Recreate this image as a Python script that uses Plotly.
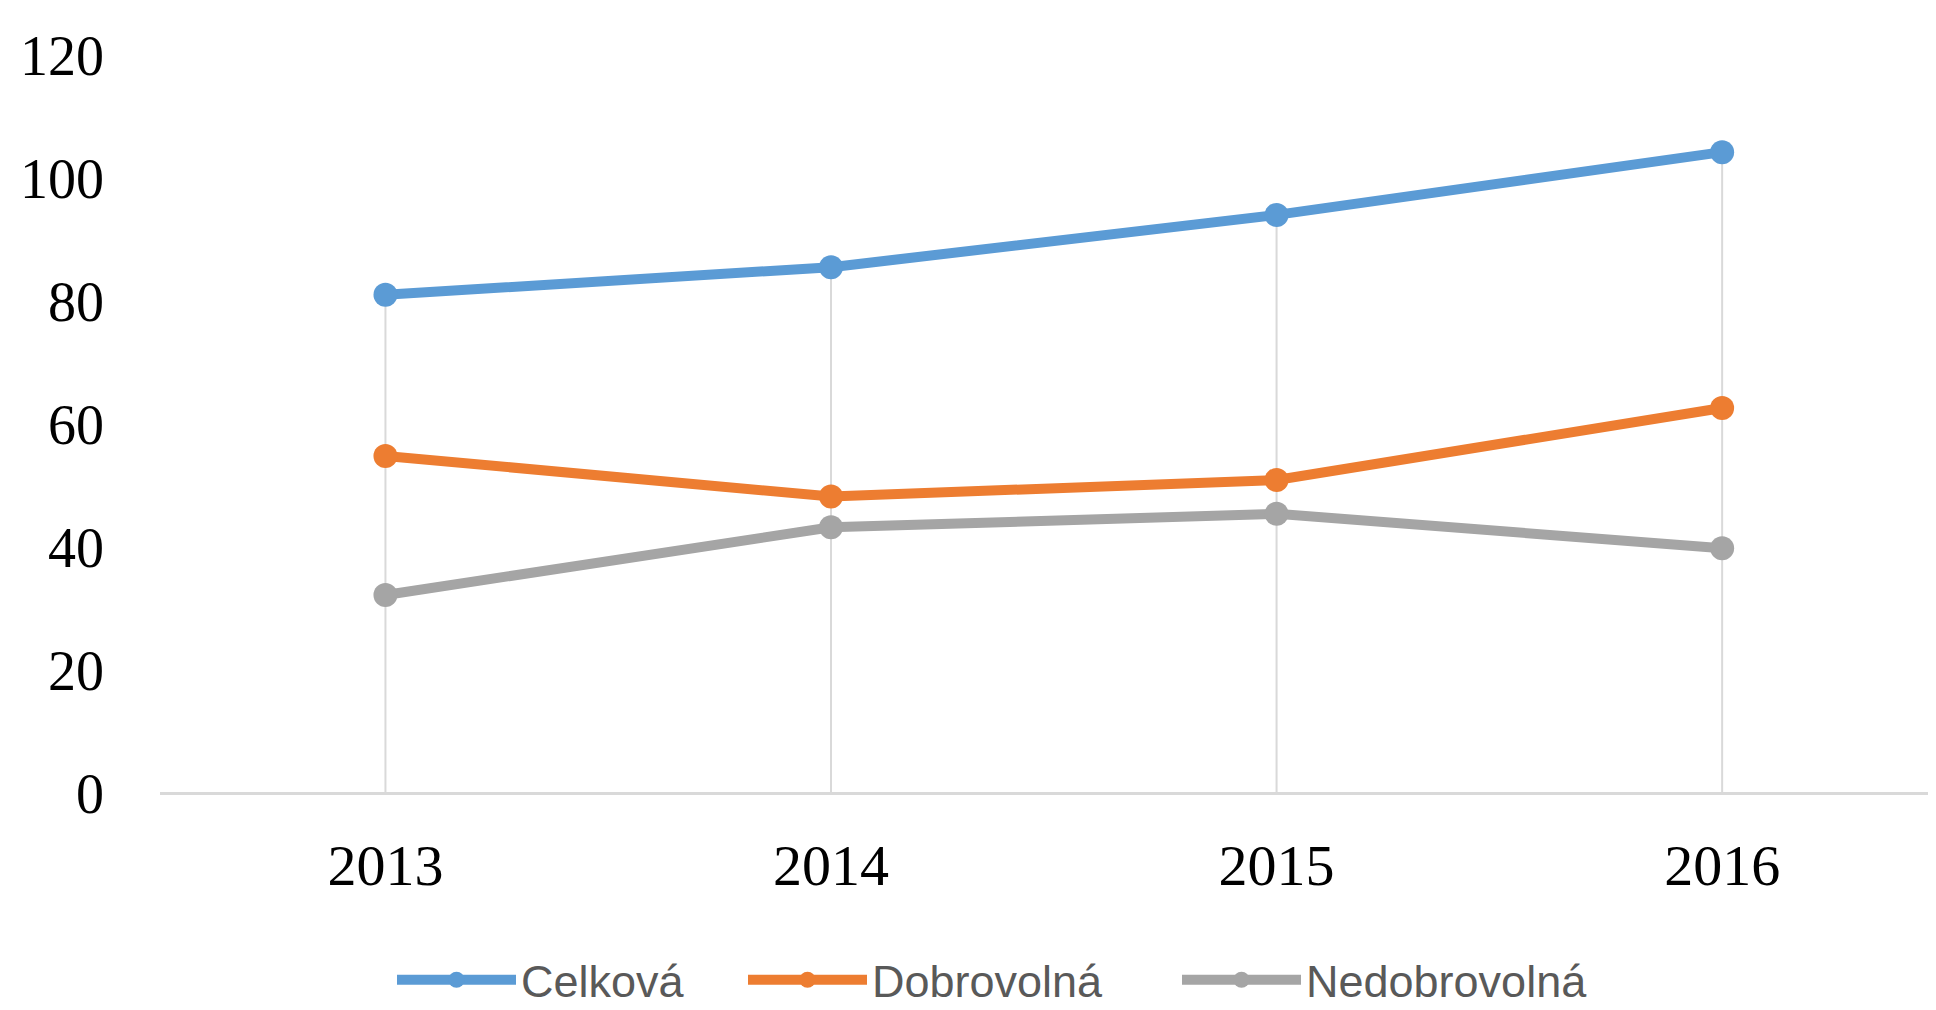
import plotly.graph_objects as go

years = [2013, 2014, 2015, 2016]
celkova = [81.0, 85.5, 94.0, 104.2]
dobrovolna = [54.8, 48.2, 50.9, 62.6]
nedobrovolna = [32.2, 43.2, 45.4, 39.8]
series_names = ["Celková", "Dobrovolná", "Nedobrovolná"]
series_colors = ["#5B9BD5", "#ED7D31", "#A5A5A5"]
y_ticks = [0, 20, 40, 60, 80, 100, 120]

W, H = 1928, 1002  # page body has an 8px margin

fig = go.Figure()

# drop lines from the highest point of each year down to the axis
drop_x, drop_y = [], []
for i, yr in enumerate(years):
    top = max(celkova[i], dobrovolna[i], nedobrovolna[i])
    drop_x += [yr, yr, None]
    drop_y += [0, top, None]
fig.add_trace(go.Scatter(x=drop_x, y=drop_y, mode="lines",
                         line=dict(color="#D9D9D9", width=2),
                         showlegend=False, hoverinfo="skip"))

legend_ids = ["legend", "legend2", "legend3"]
legend_x = [398, 749, 1183]
for name, vals, col, lid in zip(series_names, [celkova, dobrovolna, nedobrovolna], series_colors, legend_ids):
    fig.add_trace(go.Scatter(x=years, y=vals, name=name, mode="lines+markers",
                             line=dict(color=col, width=10),
                             marker=dict(color=col, size=24), legend=lid))

legend_common = dict(orientation="h", xref="container", xanchor="left",
                     yref="container", y=1 - 972 / H, yanchor="middle",
                     bgcolor="rgba(0,0,0,0)",
                     font=dict(family="Liberation Sans, Arial, sans-serif", size=45, color="#595959"),
                     itemwidth=119)
legends = {}
for lid, lx in zip(legend_ids, legend_x):
    legends[lid] = dict(legend_common, x=(lx - 14) / W)

fig.update_layout(
    width=W, height=H,
    paper_bgcolor="white", plot_bgcolor="white",
    margin=dict(l=152, r=0, t=47, b=217, autoexpand=False),
    showlegend=True,
    **legends,
)
fig.update_xaxes(range=[2012.494, 2016.48], tickvals=years, ticktext=[str(y) for y in years],
                 showgrid=False, zeroline=False, showline=False, ticks="", automargin=False,
                 tickfont=dict(family="Liberation Serif, Times New Roman, serif", size=58, color="black"),
                 ticklabelstandoff=33)
fig.update_yaxes(range=[0, 120], tickvals=y_ticks, showgrid=False,
                 zeroline=True, zerolinecolor="#D9D9D9", zerolinewidth=3,
                 showline=False, ticks="", automargin=False,
                 tickfont=dict(family="Liberation Serif, Times New Roman, serif", size=56, color="black"),
                 ticklabelstandoff=55)

fig.write_html("out.html")
